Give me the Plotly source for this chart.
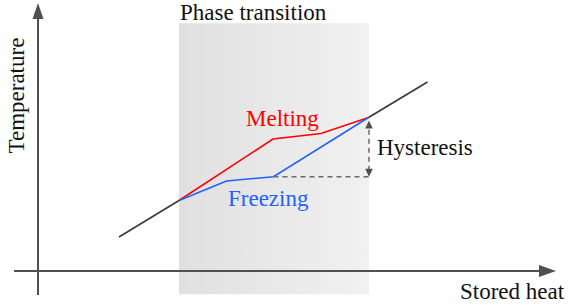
import plotly.graph_objects as go

# ---- data (arbitrary units: stored heat on x, temperature on y) ----
phase_heat = [14.1, 33.1]          # extent of the phase-transition band
phase_temp = [-2.33, 24.77]

sensible_low_heat = [8.1, 14.1]
sensible_low_temp = [3.4, 7.05]
sensible_high_heat = [33.05, 38.95]
sensible_high_temp = [15.35, 18.9]

melting_heat = [14.1, 23.5, 28.3, 33.05]
melting_temp = [7.05, 13.2, 13.75, 15.35]

freezing_heat = [14.1, 18.85, 23.55, 33.05]
freezing_temp = [7.05, 9.0, 9.43, 15.35]

hyst_heat = 33.1
hyst_low = 9.43
hyst_high = 15.35

axis_x_span = [-2.4, 51.8]
axis_y_span = [-2.4, 26.8]

labels = {
    "phase": "Phase transition",
    "melt": "Melting",
    "freeze": "Freezing",
    "hyst": "Hysteresis",
    "xlab": "Stored heat",
    "ylab": "Temperature",
}

FONT = "Liberation Serif"
FS = 23
AXC = "#505050"
RED = "#ff0000"
BLUE = "#1f62ff"
DARK = "#383838"

fig = go.Figure()

# gradient phase band
fig.add_trace(go.Scatter(
    x=[phase_heat[0], phase_heat[1], phase_heat[1], phase_heat[0], phase_heat[0]],
    y=[phase_temp[0], phase_temp[0], phase_temp[1], phase_temp[1], phase_temp[0]],
    mode="lines", line=dict(width=0), fill="toself",
    fillgradient=dict(type="horizontal",
                      colorscale=[[0, "#e0e0e0"], [1, "#f1f1f1"]]),
    hoverinfo="skip", showlegend=False))

for hx, ty in [(sensible_low_heat, sensible_low_temp),
               (sensible_high_heat, sensible_high_temp)]:
    fig.add_trace(go.Scatter(x=hx, y=ty, mode="lines",
                             line=dict(color=DARK, width=1.6),
                             showlegend=False, hoverinfo="skip"))

fig.add_trace(go.Scatter(x=melting_heat, y=melting_temp, mode="lines",
                         line=dict(color=RED, width=1.6),
                         showlegend=False, hoverinfo="skip"))
fig.add_trace(go.Scatter(x=freezing_heat, y=freezing_temp, mode="lines",
                         line=dict(color=BLUE, width=1.6),
                         showlegend=False, hoverinfo="skip"))

shapes = []
# axes lines
shapes.append(dict(type="line", x0=axis_x_span[0], x1=axis_x_span[1] - 1.0,
                   y0=0, y1=0, line=dict(color=AXC, width=2)))
shapes.append(dict(type="line", x0=0, x1=0, y0=axis_y_span[0],
                   y1=axis_y_span[1] - 1.0, line=dict(color=AXC, width=2)))
# axis arrowheads (pixel-sized)
shapes.append(dict(type="path", xsizemode="pixel", ysizemode="pixel",
                   xanchor=axis_x_span[1], yanchor=0,
                   path="M0,0 L-17,-6 L-17,6 Z",
                   fillcolor=AXC, line=dict(width=0)))
shapes.append(dict(type="path", xsizemode="pixel", ysizemode="pixel",
                   xanchor=0, yanchor=axis_y_span[1],
                   path="M0,0 L-5.5,-16 L5.5,-16 Z",
                   fillcolor=AXC, line=dict(width=0)))
# dashed hysteresis guide
shapes.append(dict(type="line", x0=freezing_heat[2], x1=hyst_heat,
                   y0=hyst_low, y1=hyst_low,
                   line=dict(color="#6a6a6a", width=1.5, dash="5px,4px")))
shapes.append(dict(type="line", x0=hyst_heat, x1=hyst_heat,
                   y0=hyst_low + 0.6, y1=hyst_high - 0.8,
                   line=dict(color="#6a6a6a", width=1.5, dash="5px,4px")))
shapes.append(dict(type="path", xsizemode="pixel", ysizemode="pixel",
                   xanchor=hyst_heat, yanchor=hyst_high - 0.3,
                   path="M0,0 L-3.8,-8 L3.8,-8 Z",
                   fillcolor=AXC, line=dict(width=0)))
shapes.append(dict(type="path", xsizemode="pixel", ysizemode="pixel",
                   xanchor=hyst_heat, yanchor=hyst_low,
                   path="M0,0 L-3.8,8 L3.8,8 Z",
                   fillcolor=AXC, line=dict(width=0)))

annos = [
    dict(x=phase_heat[0] - 0.1, y=25.85, text=labels["phase"], xanchor="left",
         font=dict(color="#111")),
    dict(x=24.4, y=15.25, text=labels["melt"], font=dict(color=RED)),
    dict(x=23.0, y=7.25, text=labels["freeze"], font=dict(color=BLUE)),
    dict(x=38.7, y=12.4, text=labels["hyst"], font=dict(color="#111")),
    dict(x=47.45, y=-2.0, text=labels["xlab"], font=dict(color="#111")),
    dict(x=-2.2, y=17.55, text=labels["ylab"], textangle=-90, font=dict(color="#111")),
]
for a in annos:
    a.setdefault("showarrow", False)
    a["font"] = dict(family=FONT, size=FS, **a["font"])
    a.setdefault("xanchor", "center")
    a["yanchor"] = "middle"

fig.update_layout(
    width=569, height=305,
    margin=dict(l=0, r=0, t=0, b=0),
    paper_bgcolor="white", plot_bgcolor="white",
    xaxis=dict(range=[-3.8, 53.1], visible=False, fixedrange=True),
    yaxis=dict(range=[-3.4, 27.1], visible=False, fixedrange=True),
    shapes=shapes, annotations=annos,
    showlegend=False,
)

fig.write_html("out.html", config={"displayModeBar": False},
               post_script="document.body.style.margin='0';document.body.style.overflow='hidden';")
